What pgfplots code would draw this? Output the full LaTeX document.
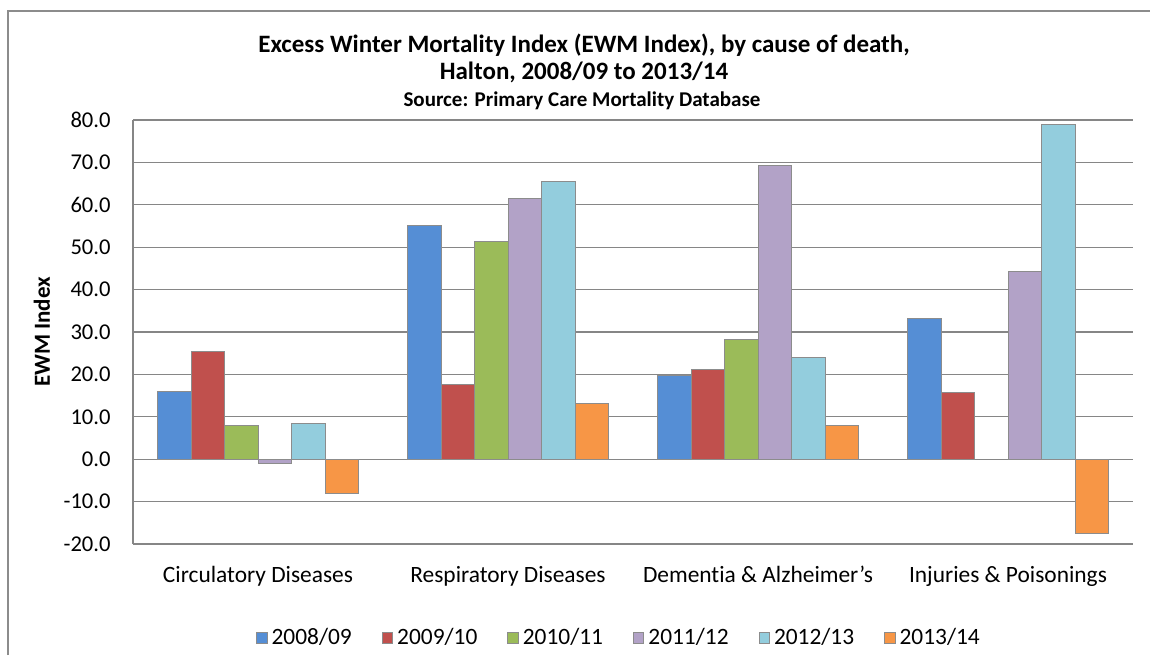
\documentclass[border=0pt]{standalone}
\usepackage{fontspec}
\setmainfont{Carlito}[RawFeature={-liga}]
\usepackage{pgfplots}
\pgfplotsset{compat=1.18}
\definecolor{c0809}{HTML}{558ED5}
\definecolor{c0910}{HTML}{C0504D}
\definecolor{c1011}{HTML}{9BBB59}
\definecolor{c1112}{HTML}{B2A2C7}
\definecolor{c1213}{HTML}{93CDDD}
\definecolor{c1314}{HTML}{F79646}
\definecolor{gridgray}{HTML}{868686}
\definecolor{edgegray}{HTML}{8C8C8C}
\begin{document}
\begin{tikzpicture}
\path[use as bounding box] (0,0) rectangle (575pt,327.5pt);
% chart frame (cropped at right and bottom)
\draw[edgegray, line width=1pt] (4pt,0) -- (4pt,322pt) -- (575pt,322pt);
\node[font=\fontsize{12.5}{14}\selectfont\bfseries] at (292pt,305pt) {Excess Winter Mortality Index (EWM Index), by cause of death,};
\node[font=\fontsize{12.5}{14}\selectfont\bfseries] at (292pt,291.5pt) {Halton, 2008/09 to 2013/14};
\node[font=\fontsize{10.5}{12}\selectfont\bfseries] at (291pt,277pt) {Source: Primary Care Mortality Database};
\begin{axis}[
    at={(66.5pt,55.5pt)}, anchor=south west,
    scale only axis, width=500pt, height=212pt,
    ybar=0pt, bar width=16.75pt,
    legend image code/.code={\draw[#1] (0pt,-2.6pt) rectangle (5.2pt,2.6pt);},
    xmin=-0.5, xmax=3.5,
    ymin=-20, ymax=80,
    xtick={0,1,2,3},
    xticklabels={Circulatory Diseases,Respiratory Diseases,Dementia \& Alzheimer’s,Injuries \& Poisonings},
    ytick={-20,-10,...,80},
    axis x line*=bottom, axis y line*=left,
    axis line style={gridgray, line width=0.6pt},
    major tick length=0pt,
    ymajorgrids=true,
    major grid style={gridgray, line width=0.6pt},
    /pgf/number format/assume math mode=true,
    yticklabel={\pgfmathprintnumber[fixed,fixed zerofill,precision=1]{\tick}},
    yticklabel style={font=\fontsize{11.3}{13}\selectfont, anchor=east, inner sep=0pt, xshift=-11pt},
    xticklabel style={font=\fontsize{11.7}{13}\selectfont, anchor=base, inner sep=0pt, yshift=-19.2pt},
    ylabel={EWM Index},
    ylabel style={font=\fontsize{11.5}{13}\selectfont\bfseries, at={(rel axis cs:-0.091,0.5)}, anchor=center},
    legend columns=6,
    legend style={at={(0.487,-0.2217)}, anchor=center, draw=none, fill=none,
        font=\fontsize{11.7}{13}\selectfont,
        /tikz/every even column/.append style={column sep=13pt}},
    every axis plot/.append style={draw=edgegray, line width=0.5pt},
]
\addplot[fill=c0809] coordinates {(0,15.9) (1,55.1) (2,19.8) (3,33.3)};
\addplot[fill=c0910] coordinates {(0,25.4) (1,17.7) (2,21.2) (3,15.7)};
\addplot[fill=c1011] coordinates {(0,7.9) (1,51.4) (2,28.2)};
\addplot[fill=c1112] coordinates {(0,-1.0) (1,61.6) (2,69.3) (3,44.2)};
\addplot[fill=c1213] coordinates {(0,8.5) (1,65.6) (2,23.9) (3,78.9)};
\addplot[fill=c1314] coordinates {(0,-8.0) (1,13.2) (2,7.9) (3,-17.6)};
\legend{2008/09,2009/10,2010/11,2011/12,2012/13,2013/14}
\end{axis}
\end{tikzpicture}
\end{document}
